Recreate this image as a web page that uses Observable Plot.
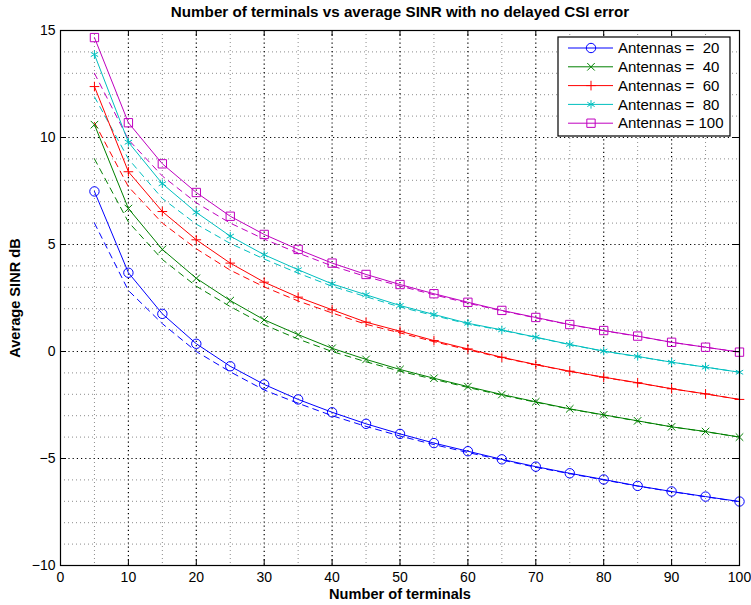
<!DOCTYPE html>
<html><head><meta charset="utf-8">
<script src="https://cdn.jsdelivr.net/npm/d3@7"></script>
<script src="https://cdn.jsdelivr.net/npm/@observablehq/plot@0.6"></script>
<style>
body{margin:0;background:#fff;}
#chart{position:relative;width:751px;height:605px;}
</style>
</head><body><div id="chart"></div>
<script>
// ---- data ----
const terminals = [5,10,15,20,25,30,35,40,45,50,55,60,65,70,75,80,85,90,95,100];
const antennas = [20,40,60,80,100];
// solid lines (with markers)
const sinrA20  = [7.48,3.68,1.76,0.36,-0.69,-1.54,-2.24,-2.84,-3.38,-3.85,-4.28,-4.66,-5.04,-5.38,-5.69,-5.98,-6.28,-6.54,-6.78,-7.01];
const sinrA40  = [10.6,6.68,4.77,3.42,2.38,1.48,0.79,0.15,-0.37,-0.84,-1.25,-1.64,-2.01,-2.35,-2.68,-2.96,-3.24,-3.52,-3.74,-4.00];
const sinrA60  = [12.38,8.4,6.54,5.22,4.13,3.24,2.54,1.95,1.37,0.95,0.51,0.12,-0.27,-0.61,-0.92,-1.20,-1.46,-1.74,-1.98,-2.24];
const sinrA80  = [13.88,9.78,7.84,6.50,5.39,4.52,3.82,3.16,2.65,2.15,1.73,1.32,1.01,0.67,0.33,0.02,-0.23,-0.50,-0.73,-0.97];
const sinrA100 = [14.67,10.69,8.77,7.43,6.32,5.47,4.77,4.13,3.60,3.13,2.70,2.30,1.92,1.59,1.26,0.98,0.72,0.43,0.20,-0.03];
// dashed lines (no markers)
const dashA20  = [6.0,2.85,1.3,0.0,-0.95,-1.8,-2.42,-3.0,-3.5,-3.95,-4.35,-4.72,-5.07,-5.41,-5.71,-6.0,-6.29,-6.55,-6.79,-7.02];
const dashA40  = [9.0,6.05,4.3,3.05,2.1,1.25,0.58,0.0,-0.48,-0.92,-1.3,-1.68,-2.04,-2.37,-2.69,-2.97,-3.25,-3.52,-3.75,-4.0];
const dashA60  = [10.7,7.7,6.0,4.8,3.8,3.02,2.36,1.8,1.27,0.87,0.46,0.08,-0.29,-0.62,-0.93,-1.21,-1.47,-1.74,-1.98,-2.24];
const dashA80  = [11.9,9.0,7.15,5.95,5.05,4.32,3.66,3.05,2.56,2.08,1.68,1.29,0.99,0.66,0.32,0.01,-0.24,-0.5,-0.73,-0.97];
const dashA100 = [13.0,9.9,8.2,6.95,6.0,5.25,4.6,4.0,3.5,3.06,2.65,2.26,1.9,1.57,1.25,0.97,0.71,0.43,0.2,-0.03];

const xTicks = [0,10,20,30,40,50,60,70,80,90,100];
const yTicks = [-10,-5,0,5,10,15];
const legendLabels = ["Antennas =  20","Antennas =  40","Antennas =  60","Antennas =  80","Antennas = 100"];
const titleText = "Number of terminals vs average SINR with no delayed CSI error";
const xLabel = "Number of terminals";
const yLabel = "Average SINR dB";

// ---- styles ----
const colors = ["#0000ff","#008000","#ff0000","#00bfbf","#bf00bf"];
const symbols = ["circle","times","plus","asterisk","square"];
const symbolR = [4.7,3.5,3.2,4.0,4.7];
const d3Symbols = [d3.symbolCircle,d3.symbolTimes,d3.symbolPlus,d3.symbolAsterisk,d3.symbolSquare];

const W = 751, H = 605, mL = 60, mR = 12, mT = 30, mB = 40;
const innerW = W - mL - mR, innerH = H - mT - mB;

const solids = [sinrA20,sinrA40,sinrA60,sinrA80,sinrA100];
const dashes = [dashA20,dashA40,dashA60,dashA80,dashA100];
const solidRows = solids.map(s => terminals.map((t,j) => ({t, v: s[j]})));
const dashRows = dashes.map(s => terminals.map((t,j) => ({t, v: s[j]})));

const xMinor = d3.range(5,100,10);
const yMinor = d3.range(-9,15).filter(v => v % 5 !== 0);
const xMajor = xTicks.slice(1,-1);
const yMajor = yTicks.slice(1,-1);

const marks = [
  Plot.ruleX(xMinor, {stroke:"#8c8c8c", strokeDasharray:"1,3", strokeWidth:1}),
  Plot.ruleY(yMinor, {stroke:"#8c8c8c", strokeDasharray:"1,3", strokeWidth:1}),
  Plot.ruleX(xMajor, {stroke:"#000", strokeDasharray:"1.2,3", strokeWidth:1.2}),
  Plot.ruleY(yMajor, {stroke:"#000", strokeDasharray:"1.2,3", strokeWidth:1.2}),
];
dashRows.forEach((rows,i) => marks.push(Plot.line(rows, {x:"t", y:"v", stroke: colors[i], strokeWidth:1, strokeDasharray:"6,5"})));
solidRows.forEach((rows,i) => {
  marks.push(Plot.line(rows, {x:"t", y:"v", stroke: colors[i], strokeWidth:1}));
  marks.push(Plot.dot(rows, {x:"t", y:"v", stroke: colors[i], symbol: symbols[i], r: symbolR[i], fill:"none", strokeWidth:1}));
});
marks.push(
  Plot.ruleX(xTicks, {stroke:"#000", insetTop: innerH - 6}),
  Plot.ruleX(xTicks, {stroke:"#000", insetBottom: innerH - 6}),
  Plot.ruleY(yTicks, {stroke:"#000", insetRight: innerW - 6}),
  Plot.ruleY(yTicks, {stroke:"#000", insetLeft: innerW - 6}),
  Plot.frame({stroke:"#000", strokeWidth:1.2}),
  Plot.axisX(xTicks, {tickSize:0, tickPadding:7, label:null, fontSize:14}),
  Plot.axisY(yTicks, {tickSize:0, tickPadding:5, label:null, fontSize:14}),
  Plot.text([titleText], {frameAnchor:"top", dy:-18, lineAnchor:"middle", textAnchor:"middle", fontWeight:"bold", fontSize:15.2}),
  Plot.text([xLabel], {frameAnchor:"bottom", dy:29, lineAnchor:"middle", textAnchor:"middle", fontWeight:"bold", fontSize:14.6}),
  Plot.text([yLabel], {frameAnchor:"left", dx:-45, rotate:-90, lineAnchor:"middle", textAnchor:"middle", fontWeight:"bold", fontSize:14.6})
);

const chart = Plot.plot({
  width: W, height: H,
  marginLeft: mL, marginRight: mR, marginTop: mT, marginBottom: mB,
  x: {domain:[0,100]},
  y: {domain:[-10,15]},
  style: {fontFamily:"'Liberation Sans', Arial, Helvetica, sans-serif", fontSize:"14px", background:"#fff", color:"#000"},
  marks
});
document.getElementById("chart").appendChild(chart);

// ---- legend ----
const svg = d3.select(chart);
const lg = svg.append("g").attr("transform","translate(558,37)");
lg.append("rect").attr("width",172).attr("height",99).attr("fill","#fff").attr("stroke","#000").attr("stroke-width",1.2);
legendLabels.forEach((lab,i) => {
  const y = 11 + i*18.8;
  lg.append("line").attr("x1",10).attr("x2",55).attr("y1",y).attr("y2",y).attr("stroke",colors[i]).attr("stroke-width",1);
  lg.append("path").attr("d", d3.symbol(d3Symbols[i], Math.PI*symbolR[i]*symbolR[i])())
    .attr("transform",`translate(33,${y})`).attr("fill","none").attr("stroke",colors[i]).attr("stroke-width",1);
  lg.append("text").attr("x",60).attr("y",y).attr("dy","0.35em").attr("font-size",15)
    .attr("text-anchor","start")
    .style("white-space","pre").attr("xml:space","preserve").attr("fill","#000").text(lab);
});
</script>
</body></html>
